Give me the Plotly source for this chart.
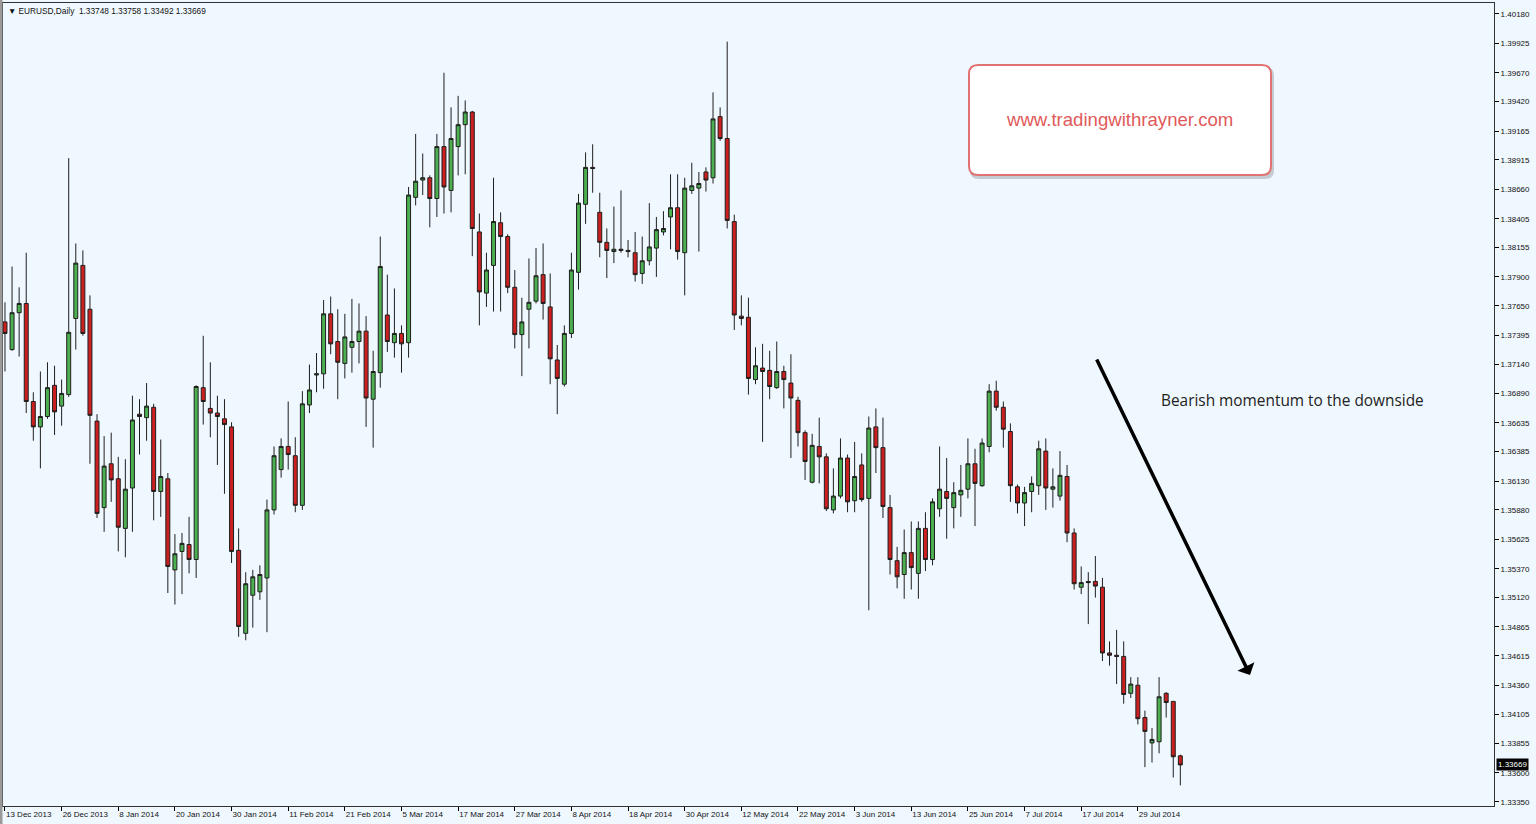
import pandas as pd
import plotly.graph_objects as go

# ---- data ----
open_ = [1.3751, 1.3727, 1.3759, 1.3767, 1.3682, 1.3660, 1.3669, 1.3696, 1.3678, 1.3688,
         1.3754, 1.3800, 1.3762, 1.3665, 1.3590, 1.3628, 1.3615, 1.3572, 1.3607, 1.3671,
         1.3668, 1.3677, 1.3604, 1.3615, 1.3536, 1.3552, 1.3558, 1.3545, 1.3694, 1.3676,
         1.3672, 1.3667, 1.3660, 1.3553, 1.3481, 1.3514, 1.3517, 1.3529, 1.3588, 1.3623,
         1.3643, 1.3635, 1.3592, 1.3679, 1.3705, 1.3706, 1.3758, 1.3734, 1.3715, 1.3729,
         1.3734, 1.3743, 1.3684, 1.3707, 1.3757, 1.3733, 1.3741, 1.3733, 1.3859, 1.3874,
         1.3876, 1.3858, 1.3903, 1.3865, 1.3903, 1.3922, 1.3933, 1.3829, 1.3776, 1.3800,
         1.3837, 1.3825, 1.3781, 1.3740, 1.3762, 1.3769, 1.3792, 1.3764, 1.3718, 1.3697,
         1.3741, 1.3794, 1.3853, 1.3885, 1.3846, 1.3820, 1.3812, 1.3814, 1.3813, 1.3811,
         1.3793, 1.3804, 1.3815, 1.3829, 1.3842, 1.3850, 1.3811, 1.3865, 1.3867, 1.3881,
         1.3876, 1.3929, 1.3910, 1.3838, 1.3756, 1.3755, 1.3701, 1.3711, 1.3709, 1.3694,
         1.3708, 1.3698, 1.3683, 1.3655, 1.3612, 1.3643, 1.3634, 1.3588, 1.3600, 1.3633,
         1.3596, 1.3627, 1.3598, 1.3660, 1.3642, 1.3590, 1.3544, 1.3532, 1.3551, 1.3533,
         1.3572, 1.3545, 1.3589, 1.3604, 1.3590, 1.3601, 1.3606, 1.3628, 1.3609, 1.3643,
         1.3691, 1.3677, 1.3656, 1.3608, 1.3594, 1.3604, 1.3609, 1.3639, 1.3606, 1.3600,
         1.3617, 1.3568, 1.3521, 1.3526, 1.3526, 1.3521, 1.3464, 1.3462, 1.3461, 1.3429,
         1.3436, 1.3408, 1.3386, 1.3387, 1.3429, 1.3422, 1.33748]
high = [1.3768, 1.3799, 1.3781, 1.3811, 1.3690, 1.3708, 1.3716, 1.3713, 1.3701, 1.3893,
        1.3819, 1.3813, 1.3774, 1.3671, 1.3652, 1.3655, 1.3634, 1.3632, 1.3687, 1.3684,
        1.3698, 1.3680, 1.3649, 1.3620, 1.3567, 1.3568, 1.3582, 1.3696, 1.3739, 1.3716,
        1.3687, 1.3684, 1.3664, 1.3572, 1.3534, 1.3536, 1.3540, 1.3597, 1.3643, 1.3650,
        1.3682, 1.3651, 1.3691, 1.3714, 1.3724, 1.3770, 1.3773, 1.3762, 1.3758, 1.3771,
        1.3767, 1.3756, 1.3726, 1.3825, 1.3792, 1.3780, 1.3748, 1.3868, 1.3914, 1.3897,
        1.3878, 1.3914, 1.3967, 1.3937, 1.3947, 1.3943, 1.3934, 1.3845, 1.3811, 1.3876,
        1.3846, 1.3827, 1.3796, 1.3772, 1.3806, 1.3815, 1.3819, 1.3793, 1.3731, 1.3748,
        1.3811, 1.3862, 1.3898, 1.3905, 1.3863, 1.3832, 1.3851, 1.3865, 1.3822, 1.3829,
        1.3825, 1.3854, 1.3842, 1.3847, 1.3879, 1.3879, 1.3876, 1.3889, 1.3881, 1.3885,
        1.3950, 1.3937, 1.3994, 1.3844, 1.3774, 1.3772, 1.3729, 1.3732, 1.3726, 1.3734,
        1.3713, 1.3723, 1.3686, 1.3657, 1.3654, 1.3668, 1.3637, 1.3624, 1.3650, 1.3636,
        1.3647, 1.3637, 1.3669, 1.3676, 1.3668, 1.3601, 1.3556, 1.3571, 1.3578, 1.3578,
        1.3586, 1.3598, 1.3643, 1.3633, 1.3612, 1.3627, 1.3650, 1.3641, 1.3650, 1.3697,
        1.3700, 1.3682, 1.3663, 1.3610, 1.3608, 1.3617, 1.3648, 1.3650, 1.3624, 1.3639,
        1.3627, 1.3572, 1.3539, 1.3534, 1.3548, 1.3529, 1.3474, 1.3484, 1.3474, 1.3443,
        1.3443, 1.3414, 1.3399, 1.3443, 1.3430, 1.3422, 1.33758]
low = [1.3708, 1.3726, 1.3721, 1.3672, 1.3648, 1.3624, 1.3667, 1.3653, 1.3661, 1.3686,
       1.3727, 1.3739, 1.3628, 1.3581, 1.3569, 1.3595, 1.3552, 1.3547, 1.3569, 1.3636,
       1.3648, 1.3579, 1.3582, 1.3516, 1.3506, 1.3515, 1.3533, 1.3529, 1.3662, 1.3651,
       1.3627, 1.3602, 1.3542, 1.3478, 1.3475, 1.3486, 1.3510, 1.3482, 1.3584, 1.3616,
       1.3623, 1.3586, 1.3588, 1.3672, 1.3690, 1.3693, 1.3723, 1.3684, 1.3702, 1.3707,
       1.3715, 1.3660, 1.3642, 1.3694, 1.3725, 1.3720, 1.3707, 1.3720, 1.3852, 1.3861,
       1.3833, 1.3842, 1.3845, 1.3846, 1.3878, 1.3879, 1.3808, 1.3748, 1.3764, 1.3760,
       1.3760, 1.3776, 1.3728, 1.3704, 1.3728, 1.3767, 1.3753, 1.3697, 1.3671, 1.3695,
       1.3737, 1.3779, 1.3836, 1.3863, 1.3807, 1.3789, 1.3802, 1.3811, 1.3807, 1.3786,
       1.3784, 1.3800, 1.3790, 1.3826, 1.3814, 1.3805, 1.3774, 1.3862, 1.3812, 1.3864,
       1.3871, 1.3908, 1.3832, 1.3744, 1.3748, 1.3688, 1.3697, 1.3647, 1.3684, 1.3693,
       1.3676, 1.3633, 1.3643, 1.3614, 1.3611, 1.3611, 1.3587, 1.3585, 1.3598, 1.3586,
       1.3586, 1.3595, 1.3501, 1.3620, 1.3581, 1.3532, 1.3520, 1.3511, 1.3519, 1.3511,
       1.3535, 1.3540, 1.3582, 1.3563, 1.3572, 1.3582, 1.3598, 1.3574, 1.3608, 1.3638,
       1.3674, 1.3642, 1.3595, 1.3585, 1.3574, 1.3586, 1.3601, 1.3588, 1.3590, 1.3596,
       1.3560, 1.3519, 1.3515, 1.3489, 1.3512, 1.3457, 1.3453, 1.3437, 1.3420, 1.3425,
       1.3402, 1.3365, 1.3369, 1.3377, 1.3408, 1.3356, 1.33492]
close = [1.3741, 1.3759, 1.3767, 1.3682, 1.3660, 1.3669, 1.3694, 1.3673, 1.3689, 1.3742,
         1.3802, 1.3741, 1.3670, 1.3585, 1.3626, 1.3614, 1.3573, 1.3606, 1.3666, 1.3669,
         1.3678, 1.3604, 1.3617, 1.3539, 1.3550, 1.3559, 1.3545, 1.3695, 1.3682, 1.3672,
         1.3669, 1.3662, 1.3552, 1.3487, 1.3524, 1.3530, 1.3532, 1.3588, 1.3635, 1.3643,
         1.3636, 1.3592, 1.3680, 1.3692, 1.3706, 1.3758, 1.3732, 1.3716, 1.3738, 1.3734,
         1.3743, 1.3685, 1.3708, 1.3799, 1.3734, 1.3741, 1.3732, 1.3861, 1.3873, 1.3876,
         1.3858, 1.3903, 1.3868, 1.3910, 1.3922, 1.3933, 1.3832, 1.3777, 1.3796, 1.3838,
         1.3825, 1.3781, 1.3740, 1.3751, 1.3768, 1.3791, 1.3767, 1.3719, 1.3702, 1.3741,
         1.3796, 1.3854, 1.3885, 1.3884, 1.3820, 1.3813, 1.3814, 1.3813, 1.3812, 1.3792,
         1.3804, 1.3816, 1.3831, 1.3832, 1.3850, 1.3812, 1.3867, 1.3869, 1.3871, 1.3874,
         1.3927, 1.3910, 1.3839, 1.3757, 1.3754, 1.3702, 1.3713, 1.3708, 1.3695, 1.3708,
         1.3701, 1.3685, 1.3655, 1.3630, 1.3644, 1.3634, 1.3589, 1.3600, 1.3633, 1.3595,
         1.3617, 1.3597, 1.3659, 1.3642, 1.3591, 1.3545, 1.3530, 1.3551, 1.3538, 1.3572,
         1.3545, 1.3595, 1.3606, 1.3598, 1.3603, 1.3605, 1.3628, 1.3611, 1.3646, 1.3691,
         1.3677, 1.3658, 1.3609, 1.3594, 1.3603, 1.3611, 1.3641, 1.3607, 1.3608, 1.3618,
         1.3568, 1.3524, 1.3525, 1.3525, 1.3522, 1.3464, 1.3462, 1.3461, 1.3428, 1.3437,
         1.3407, 1.3396, 1.3389, 1.3426, 1.3421, 1.3374, 1.33669]

# trading calendar of the chart (weekdays, Christmas and New Year closed)
dates = pd.bdate_range("2013-12-13", "2014-08-06", freq="C",
                       holidays=["2013-12-25", "2014-01-01"])
dates = [d.strftime("%Y-%m-%d") for d in dates][:len(open_)]

date_ticks = ["2013-12-13", "2013-12-26", "2014-01-08", "2014-01-20", "2014-01-30",
              "2014-02-11", "2014-02-21", "2014-03-05", "2014-03-17", "2014-03-27",
              "2014-04-08", "2014-04-18", "2014-04-30", "2014-05-12", "2014-05-22",
              "2014-06-03", "2014-06-13", "2014-06-25", "2014-07-07", "2014-07-17",
              "2014-07-29"]
date_labels = [f"{pd.Timestamp(d).day} {pd.Timestamp(d).strftime('%b %Y')}" for d in date_ticks]

price_ticks = [1.40180, 1.39925, 1.39670, 1.39420, 1.39165, 1.38915, 1.38660, 1.38405,
               1.38155, 1.37900, 1.37650, 1.37395, 1.37140, 1.36890, 1.36635, 1.36385,
               1.36130, 1.35880, 1.35625, 1.35370, 1.35120, 1.34865, 1.34615, 1.34360,
               1.34105, 1.33855, 1.33600, 1.33350]
price_labels = [f"{v:.5f}" for v in price_ticks]

last_price = 1.33669
header = "\u25BC EURUSD,Daily  1.33748 1.33758 1.33492 1.33669"

# ---- layout geometry ----
W, H = 1536, 824
ML, MR, MT, MB = 3, 42, 3, 18
PW, PH = W - ML - MR, H - MT - MB


def px(x):
    return (x - ML) / PW


def py(y):
    return 1 - (y - MT) / PH


def rounded_rect(x0, y0, x1, y1, r):
    rx, ry = r / PW, r / PH
    a0, a1 = px(x0), px(x1)
    b0, b1 = py(y0), py(y1)  # b0 top, b1 bottom
    return (f"M {a0 + rx} {b0} L {a1 - rx} {b0} Q {a1} {b0} {a1} {b0 - ry} "
            f"L {a1} {b1 + ry} Q {a1} {b1} {a1 - rx} {b1} L {a0 + rx} {b1} "
            f"Q {a0} {b1} {a0} {b1 + ry} L {a0} {b0 - ry} Q {a0} {b0} {a0 + rx} {b0} Z")


BG = "#F0F8FF"
fig = go.Figure()
fig.add_trace(go.Candlestick(
    x=dates, open=open_, high=high, low=low, close=close,
    increasing=dict(fillcolor="#4CAF50", line=dict(color="#1E1E1E", width=1)),
    decreasing=dict(fillcolor="#CC2020", line=dict(color="#1E1E1E", width=1)),
    whiskerwidth=0, showlegend=False, hoverinfo="x+y",
))

shapes = [
    # window border on the left
    dict(type="rect", xref="paper", yref="paper", x0=px(0), x1=px(2.5), y0=py(H), y1=py(0),
         fillcolor="#9A9A9A", line=dict(width=0), layer="above"),
    # watermark box shadow + box
    dict(type="path", xref="paper", yref="paper", path=rounded_rect(970, 67, 1274, 179, 9),
         fillcolor="rgba(0,0,0,0.18)", line=dict(width=0)),
    dict(type="path", xref="paper", yref="paper", path=rounded_rect(969, 65, 1271, 175, 9),
         fillcolor="#FFFFFF", line=dict(color="#E07272", width=2)),
]

annotations = [
    dict(text=header, xref="paper", yref="paper", x=px(6), y=py(11), xanchor="left",
         yanchor="middle", showarrow=False, font=dict(family="Liberation Sans", size=8.3, color="#111")),
    dict(text="www.tradingwithrayner.com", xref="paper", yref="paper", x=px(1119), y=py(119),
         xanchor="center", yanchor="middle", showarrow=False,
         font=dict(family="Liberation Sans, Arial", size=18.6, color="#E05A5A")),
    dict(text="Bearish momentum to the downside", xref="paper", yref="paper", x=px(1159),
         y=py(400), xanchor="left", yanchor="middle", showarrow=False,
         font=dict(family="Open Sans", size=15.4, color="#222")),
    dict(text="", xref="paper", yref="paper", x=px(1250), y=py(675), ax=-154, ay=-317,
         showarrow=True, arrowhead=1, arrowsize=0.9, arrowwidth=3.5, arrowcolor="#000",
         standoff=0, startstandoff=0),
    dict(text=f"{last_price:.5f}", xref="paper", yref="y", x=px(1496), y=last_price,
         xanchor="left", yanchor="middle", showarrow=False, bgcolor="#000",
         font=dict(family="Liberation Sans", size=8, color="#FFF"), borderpad=1),
]

fig.update_layout(
    width=W, height=H, margin=dict(l=ML, r=MR, t=MT, b=MB),
    paper_bgcolor=BG, plot_bgcolor=BG, boxgap=0.2,
    shapes=shapes, annotations=annotations, hovermode=False,
    xaxis=dict(type="category", range=[-0.28, 210.3], rangeslider=dict(visible=False),
               showgrid=False, zeroline=False, tickmode="array", tickvals=date_ticks,
               ticktext=date_labels, ticks="outside", ticklen=4, tickcolor="#000",
               ticklabelposition="outside right",
               tickfont=dict(family="Liberation Sans", size=8, color="#111"),
               showline=True, linecolor="#333", linewidth=1, mirror=True),
    yaxis=dict(side="right", range=[1.33313, 1.40275], showgrid=False, zeroline=False,
               tickmode="array", tickvals=price_ticks, ticktext=price_labels,
               ticks="outside", ticklen=4, tickcolor="#000",
               tickfont=dict(family="Liberation Sans", size=8, color="#111"),
               showline=True, linecolor="#333", linewidth=1, mirror=True),
)

fig.write_html("out.html", config={"displayModeBar": False},
               post_script="document.body.style.margin='0';document.body.style.overflow='hidden';")
